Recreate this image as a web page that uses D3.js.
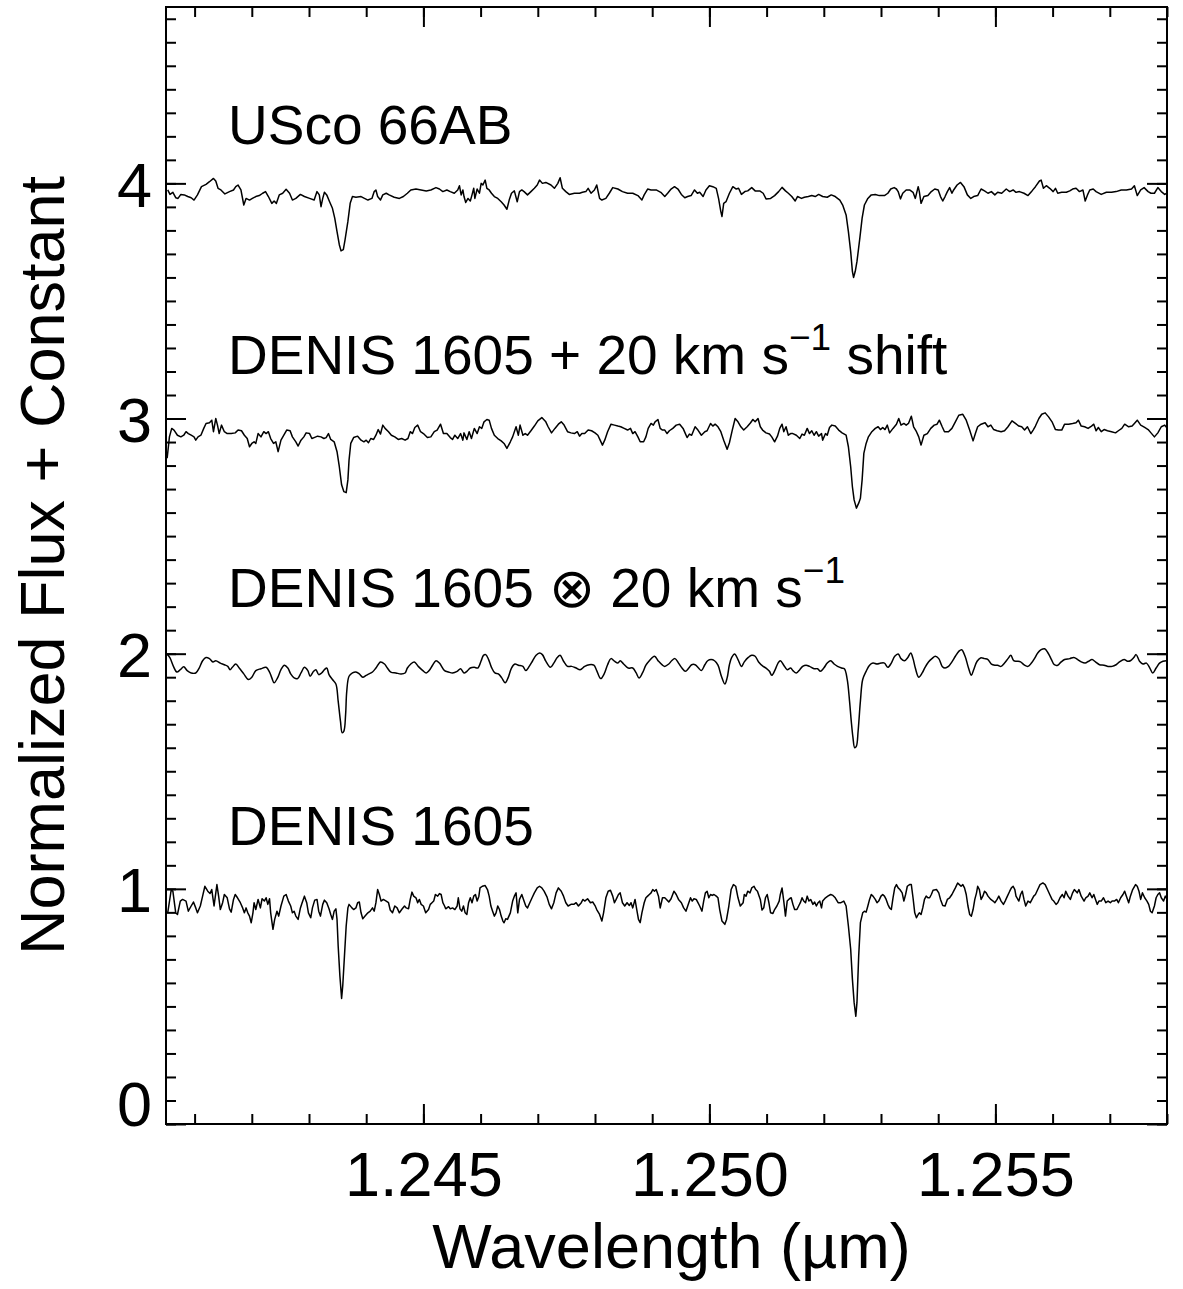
<!DOCTYPE html>
<html>
<head>
<meta charset="utf-8">
<script src="https://cdn.jsdelivr.net/npm/d3@7"></script>
<style>
  body { margin: 0; background: #fff; }
  svg { display: block; }
  text { font-family: "Liberation Sans", Arial, Helvetica, sans-serif; fill: #000; }
</style>
</head>
<body>
<svg id="chart" width="1183" height="1289"></svg>
<script>
// wavelength (micron), normalized flux + offset
const usco66ab = [
  [1.24053,3.972],[1.24057,3.953],[1.24062,3.962],[1.24067,3.939],[1.24071,3.936],[1.24076,3.953],[1.24082,3.951],[1.24088,3.944],
  [1.24094,3.939],[1.24099,3.929],[1.24105,3.951],[1.24112,3.986],[1.24120,3.996],[1.24126,4.007],[1.24133,4.021],[1.24137,4.010],
  [1.24141,3.979],[1.24146,3.972],[1.24153,3.955],[1.24161,3.965],[1.24168,3.972],[1.24172,3.986],[1.24176,3.993],[1.24181,3.972],
  [1.24186,3.908],[1.24190,3.936],[1.24196,3.929],[1.24201,3.936],[1.24207,3.944],[1.24213,3.948],[1.24219,3.958],[1.24224,3.965],
  [1.24229,3.944],[1.24235,3.915],[1.24239,3.925],[1.24243,3.915],[1.24248,3.951],[1.24254,3.958],[1.24260,3.975],[1.24266,3.958],
  [1.24271,3.929],[1.24277,3.936],[1.24285,3.953],[1.24292,3.944],[1.24301,3.936],[1.24309,3.929],[1.24314,3.965],[1.24318,3.951],
  [1.24321,3.901],[1.24324,3.936],[1.24327,3.962],[1.24331,3.951],[1.24336,3.922],[1.24341,3.894],[1.24345,3.852],[1.24349,3.795],
  [1.24353,3.739],[1.24356,3.713],[1.24360,3.718],[1.24363,3.760],[1.24368,3.838],[1.24372,3.915],[1.24376,3.944],[1.24382,3.941],
  [1.24391,3.944],[1.24397,3.936],[1.24403,3.929],[1.24410,3.936],[1.24414,3.965],[1.24417,3.972],[1.24420,3.944],[1.24425,3.929],
  [1.24429,3.951],[1.24435,3.958],[1.24440,3.951],[1.24449,3.941],[1.24458,3.936],[1.24465,3.944],[1.24472,3.958],[1.24478,3.972],
  [1.24487,3.976],[1.24496,3.972],[1.24505,3.968],[1.24513,3.972],[1.24522,3.982],[1.24528,3.976],[1.24534,3.965],[1.24541,3.972],
  [1.24547,3.965],[1.24554,3.958],[1.24560,3.972],[1.24563,3.990],[1.24566,3.951],[1.24569,3.972],[1.24571,3.944],[1.24574,3.919],
  [1.24578,3.936],[1.24582,3.925],[1.24585,3.951],[1.24588,3.979],[1.24590,3.936],[1.24594,3.976],[1.24598,3.958],[1.24601,4.000],
  [1.24604,3.993],[1.24608,4.014],[1.24611,3.979],[1.24615,3.972],[1.24619,3.958],[1.24624,3.944],[1.24630,3.936],[1.24636,3.922],
  [1.24641,3.908],[1.24646,3.890],[1.24650,3.929],[1.24654,3.958],[1.24659,3.968],[1.24664,3.922],[1.24668,3.965],[1.24672,3.972],
  [1.24676,3.965],[1.24682,3.951],[1.24688,3.965],[1.24694,3.979],[1.24699,3.993],[1.24703,4.014],[1.24708,4.000],[1.24714,4.004],
  [1.24723,3.993],[1.24729,3.979],[1.24735,4.000],[1.24739,4.024],[1.24743,3.979],[1.24749,3.965],[1.24755,3.953],[1.24764,3.958],
  [1.24773,3.958],[1.24778,3.962],[1.24784,3.965],[1.24788,3.979],[1.24793,3.958],[1.24799,3.972],[1.24803,3.993],[1.24808,3.936],
  [1.24812,3.929],[1.24819,3.936],[1.24825,3.958],[1.24831,3.982],[1.24840,3.976],[1.24848,3.965],[1.24857,3.958],[1.24866,3.958],
  [1.24875,3.948],[1.24882,3.929],[1.24886,3.951],[1.24892,3.976],[1.24898,3.972],[1.24907,3.972],[1.24915,3.962],
  [1.24922,3.944],[1.24927,3.958],[1.24933,3.976],[1.24939,3.986],[1.24945,3.976],[1.24951,3.953],[1.24957,3.939],[1.24962,3.944],
  [1.24968,3.948],[1.24974,3.972],[1.24979,3.958],[1.24983,3.962],[1.24989,3.944],[1.24994,3.972],[1.25000,3.990],[1.25006,3.986],
  [1.25012,3.979],[1.25016,3.936],[1.25020,3.880],[1.25022,3.859],[1.25025,3.915],[1.25029,3.922],[1.25035,3.958],[1.25041,3.986],
  [1.25047,3.976],[1.25051,3.979],[1.25056,3.953],[1.25062,3.965],[1.25067,3.968],[1.25074,3.982],[1.25080,3.968],[1.25088,3.968],
  [1.25094,3.958],[1.25099,3.934],[1.25107,3.936],[1.25114,3.948],[1.25121,3.965],[1.25127,3.983],[1.25133,3.968],[1.25138,3.958],
  [1.25144,3.944],[1.25150,3.925],[1.25154,3.944],[1.25161,3.936],[1.25166,3.941],[1.25173,3.944],[1.25179,3.948],[1.25185,3.944],
  [1.25191,3.953],[1.25198,3.944],[1.25206,3.941],[1.25213,3.951],[1.25220,3.944],[1.25228,3.929],[1.25233,3.908],[1.25239,3.866],
  [1.25243,3.795],[1.25247,3.710],[1.25250,3.626],[1.25252,3.600],[1.25255,3.626],[1.25258,3.668],[1.25263,3.767],[1.25267,3.852],
  [1.25271,3.908],[1.25277,3.936],[1.25283,3.951],[1.25290,3.953],[1.25297,3.948],[1.25306,3.948],[1.25312,3.958],[1.25317,3.976],
  [1.25323,3.982],[1.25327,3.976],[1.25330,3.965],[1.25334,3.934],[1.25338,3.958],[1.25344,3.972],[1.25350,3.972],[1.25356,3.962],
  [1.25360,3.936],[1.25365,3.986],[1.25367,3.965],[1.25370,3.915],[1.25375,3.944],[1.25382,3.948],[1.25388,3.965],[1.25394,3.976],
  [1.25400,3.972],[1.25404,3.944],[1.25408,3.925],[1.25412,3.944],[1.25416,3.965],[1.25420,3.982],[1.25424,3.958],[1.25427,3.972],
  [1.25433,3.993],[1.25439,4.004],[1.25445,3.986],[1.25451,3.951],[1.25457,3.936],[1.25462,3.944],[1.25469,3.948],[1.25475,3.976],
  [1.25481,3.968],[1.25487,3.958],[1.25493,3.965],[1.25499,3.951],[1.25504,3.962],[1.25511,3.958],[1.25519,3.976],[1.25525,3.965],
  [1.25531,3.972],[1.25536,3.962],[1.25542,3.965],[1.25550,3.958],[1.25557,3.948],[1.25564,3.968],[1.25570,3.986],[1.25577,4.010],
  [1.25580,4.014],[1.25584,3.979],[1.25589,3.990],[1.25595,3.979],[1.25601,3.965],[1.25605,3.979],[1.25609,3.958],[1.25616,3.962],
  [1.25624,3.962],[1.25630,3.968],[1.25635,3.976],[1.25641,3.979],[1.25647,3.965],[1.25653,3.972],[1.25657,3.925],[1.25661,3.951],
  [1.25665,3.972],[1.25671,3.976],[1.25676,3.965],[1.25685,3.953],[1.25694,3.962],[1.25703,3.962],[1.25711,3.965],[1.25720,3.972],
  [1.25729,3.972],[1.25738,3.976],[1.25743,3.990],[1.25748,3.948],[1.25754,3.972],[1.25760,3.982],[1.25767,3.965],[1.25772,3.958],
  [1.25778,3.958],[1.25784,3.982],[1.25790,3.965],[1.25796,3.953],[1.25802,3.962]
];

const denisShifted = [
  [1.24052,2.831],[1.24056,2.922],[1.24060,2.958],[1.24064,2.951],[1.24070,2.929],[1.24076,2.922],[1.24081,2.929],[1.24085,2.944],
  [1.24089,2.936],[1.24094,2.929],[1.24099,2.922],[1.24102,2.908],[1.24106,2.922],[1.24111,2.929],[1.24116,2.958],[1.24120,2.979],
  [1.24126,2.982],[1.24130,2.993],[1.24133,2.944],[1.24137,3.000],[1.24140,2.972],[1.24143,2.936],[1.24147,2.972],[1.24152,2.944],
  [1.24157,2.936],[1.24164,2.936],[1.24171,2.939],[1.24176,2.951],[1.24182,2.948],[1.24187,2.929],[1.24192,2.915],[1.24196,2.880],
  [1.24200,2.894],[1.24204,2.901],[1.24207,2.894],[1.24211,2.936],[1.24216,2.922],[1.24221,2.944],[1.24225,2.936],[1.24229,2.944],
  [1.24233,2.915],[1.24238,2.894],[1.24242,2.901],[1.24246,2.859],[1.24251,2.908],[1.24256,2.929],[1.24261,2.951],[1.24267,2.948],
  [1.24271,2.922],[1.24277,2.901],[1.24281,2.883],[1.24286,2.908],[1.24291,2.922],[1.24295,2.939],[1.24301,2.936],[1.24305,2.915],
  [1.24309,2.919],[1.24315,2.925],[1.24321,2.922],[1.24326,2.915],[1.24330,2.919],[1.24334,2.936],[1.24338,2.911],[1.24344,2.901],
  [1.24349,2.859],[1.24353,2.795],[1.24357,2.718],[1.24361,2.689],[1.24365,2.685],[1.24368,2.739],[1.24370,2.823],[1.24373,2.894],
  [1.24378,2.919],[1.24385,2.925],[1.24391,2.908],[1.24396,2.901],[1.24400,2.908],[1.24404,2.897],[1.24408,2.915],[1.24413,2.911],
  [1.24417,2.929],[1.24421,2.953],[1.24425,2.934],[1.24429,2.972],[1.24433,2.958],[1.24439,2.944],[1.24444,2.929],[1.24450,2.922],
  [1.24456,2.911],[1.24462,2.915],[1.24468,2.908],[1.24473,2.915],[1.24477,2.944],[1.24481,2.936],[1.24485,2.962],[1.24490,2.972],
  [1.24495,2.944],[1.24500,2.936],[1.24507,2.919],[1.24513,2.922],[1.24519,2.944],[1.24524,2.951],[1.24530,2.976],[1.24535,2.936],
  [1.24541,2.936],[1.24547,2.919],[1.24551,2.911],[1.24555,2.929],[1.24560,2.915],[1.24565,2.936],[1.24569,2.908],[1.24571,2.939],
  [1.24576,2.911],[1.24580,2.944],[1.24584,2.915],[1.24589,2.958],[1.24594,2.936],[1.24598,2.965],[1.24602,2.958],[1.24606,2.986],
  [1.24611,2.996],[1.24615,2.993],[1.24619,2.958],[1.24624,2.929],[1.24630,2.915],[1.24636,2.905],[1.24641,2.894],[1.24646,2.873],
  [1.24652,2.901],[1.24656,2.922],[1.24662,2.965],[1.24666,2.929],[1.24669,2.972],[1.24674,2.929],[1.24678,2.936],[1.24682,2.929],
  [1.24688,2.948],[1.24694,2.968],[1.24700,2.990],[1.24707,3.004],[1.24714,2.986],[1.24718,2.965],[1.24724,2.939],[1.24730,2.958],
  [1.24736,2.976],[1.24741,2.986],[1.24746,2.972],[1.24752,2.944],[1.24758,2.939],[1.24764,2.936],[1.24769,2.944],[1.24773,2.925],
  [1.24777,2.936],[1.24782,2.936],[1.24788,2.951],[1.24794,2.948],[1.24800,2.939],[1.24805,2.929],[1.24809,2.908],[1.24813,2.887],
  [1.24817,2.908],[1.24822,2.944],[1.24828,2.976],[1.24834,2.972],[1.24840,2.968],[1.24845,2.965],[1.24851,2.958],[1.24857,2.951],
  [1.24862,2.958],[1.24866,2.936],[1.24870,2.944],[1.24875,2.922],[1.24879,2.901],[1.24885,2.901],[1.24889,2.922],[1.24893,2.958],
  [1.24898,2.979],[1.24902,2.972],[1.24905,2.986],[1.24910,2.996],[1.24914,2.958],[1.24918,2.951],
  [1.24922,2.951],[1.24926,2.936],[1.24930,2.948],[1.24936,2.958],[1.24942,2.972],[1.24948,2.976],[1.24954,2.958],[1.24958,2.936],
  [1.24961,2.919],[1.24965,2.934],[1.24969,2.929],[1.24975,2.965],[1.24980,2.951],[1.24986,2.929],[1.24992,2.944],[1.24996,2.948],
  [1.25002,2.979],[1.25006,2.968],[1.25010,2.976],[1.25015,2.965],[1.25020,2.944],[1.25025,2.908],[1.25031,2.869],[1.25035,2.897],
  [1.25040,2.951],[1.25045,3.000],[1.25050,2.986],[1.25055,2.965],[1.25060,2.951],[1.25066,2.965],[1.25072,2.982],[1.25076,2.996],
  [1.25080,2.986],[1.25085,3.000],[1.25089,2.965],[1.25093,2.951],[1.25099,2.939],[1.25105,2.934],[1.25109,2.922],[1.25114,2.901],
  [1.25119,2.925],[1.25123,2.958],[1.25127,2.976],[1.25130,2.944],[1.25134,2.965],[1.25138,2.929],[1.25142,2.936],[1.25146,2.936],
  [1.25152,2.929],[1.25158,2.915],[1.25162,2.934],[1.25166,2.929],[1.25171,2.958],[1.25175,2.936],[1.25179,2.948],[1.25183,2.929],
  [1.25187,2.944],[1.25191,2.925],[1.25196,2.936],[1.25198,2.908],[1.25203,2.936],[1.25206,2.929],[1.25210,2.962],[1.25214,2.972],
  [1.25220,2.968],[1.25226,2.951],[1.25232,2.939],[1.25239,2.929],[1.25243,2.880],[1.25247,2.795],[1.25250,2.710],[1.25253,2.654],
  [1.25257,2.619],[1.25261,2.640],[1.25264,2.661],[1.25267,2.739],[1.25270,2.852],[1.25274,2.894],[1.25278,2.922],[1.25284,2.944],
  [1.25290,2.958],[1.25295,2.965],[1.25299,2.953],[1.25303,2.962],[1.25307,2.953],[1.25311,2.972],[1.25315,2.939],[1.25321,2.958],
  [1.25327,2.976],[1.25331,3.000],[1.25335,2.972],[1.25340,2.979],[1.25344,2.972],[1.25348,2.979],[1.25353,3.010],[1.25357,2.965],
  [1.25362,2.944],[1.25366,2.922],[1.25370,2.887],[1.25375,2.929],[1.25381,2.936],[1.25387,2.958],[1.25393,2.972],[1.25398,2.976],
  [1.25402,2.993],[1.25407,2.965],[1.25411,2.944],[1.25418,2.944],[1.25424,2.958],[1.25430,2.986],[1.25436,3.014],[1.25443,3.018],
  [1.25449,2.993],[1.25455,2.951],[1.25461,2.905],[1.25465,2.936],[1.25469,2.965],[1.25475,2.976],[1.25482,2.982],[1.25487,2.965],
  [1.25492,2.972],[1.25497,2.953],[1.25503,2.948],[1.25510,2.944],[1.25516,2.948],[1.25522,2.965],[1.25529,2.990],[1.25535,2.979],
  [1.25541,2.968],[1.25546,2.965],[1.25551,2.951],[1.25556,2.965],[1.25562,2.936],[1.25566,2.951],[1.25570,2.968],[1.25576,3.000],
  [1.25581,3.018],[1.25587,3.024],[1.25593,3.007],[1.25599,2.986],[1.25605,2.953],[1.25610,2.951],[1.25616,2.951],[1.25621,2.976],
  [1.25628,2.976],[1.25635,2.979],[1.25641,2.982],[1.25645,2.993],[1.25650,2.968],[1.25656,2.965],[1.25662,2.958],[1.25668,2.968],
  [1.25672,2.976],[1.25676,2.948],[1.25680,2.962],[1.25685,2.944],[1.25690,2.953],[1.25696,2.948],[1.25703,2.944],[1.25710,2.939],
  [1.25715,2.948],[1.25721,2.958],[1.25726,2.976],[1.25733,2.965],[1.25739,2.968],[1.25743,2.979],[1.25748,2.993],[1.25754,2.972],
  [1.25761,2.962],[1.25767,2.953],[1.25772,2.939],[1.25778,2.922],[1.25784,2.939],[1.25790,2.965],[1.25796,2.972],[1.25802,2.953]
];

const denisBroadened = [
  [1.24052,1.999],[1.24057,1.982],[1.24063,1.946],[1.24069,1.922],[1.24075,1.932],[1.24081,1.944],[1.24087,1.928],[1.24094,1.918],
  [1.24102,1.918],[1.24108,1.939],[1.24114,1.970],[1.24120,1.984],[1.24126,1.979],[1.24132,1.965],[1.24137,1.970],[1.24145,1.960],
  [1.24152,1.953],[1.24158,1.946],[1.24162,1.932],[1.24166,1.942],[1.24172,1.956],[1.24178,1.939],[1.24186,1.914],[1.24194,1.890],
  [1.24200,1.900],[1.24207,1.928],[1.24216,1.936],[1.24225,1.942],[1.24231,1.922],[1.24235,1.897],[1.24239,1.876],[1.24245,1.897],
  [1.24251,1.932],[1.24257,1.951],[1.24263,1.939],[1.24268,1.914],[1.24274,1.897],[1.24280,1.894],[1.24286,1.918],[1.24292,1.942],
  [1.24298,1.928],[1.24302,1.904],[1.24308,1.925],[1.24312,1.932],[1.24317,1.911],[1.24322,1.918],[1.24327,1.932],[1.24331,1.939],
  [1.24335,1.911],[1.24341,1.890],[1.24347,1.871],[1.24351,1.798],[1.24355,1.713],[1.24358,1.664],[1.24361,1.671],[1.24364,1.742],
  [1.24366,1.840],[1.24370,1.904],[1.24376,1.918],[1.24382,1.922],[1.24388,1.914],[1.24394,1.900],[1.24400,1.908],[1.24405,1.914],
  [1.24411,1.922],[1.24417,1.939],[1.24425,1.965],[1.24432,1.956],[1.24437,1.939],[1.24443,1.922],[1.24452,1.918],[1.24461,1.914],
  [1.24468,1.918],[1.24472,1.939],[1.24478,1.956],[1.24484,1.965],[1.24491,1.946],[1.24499,1.928],[1.24505,1.918],[1.24510,1.928],
  [1.24516,1.951],[1.24522,1.970],[1.24528,1.960],[1.24537,1.928],[1.24544,1.922],[1.24551,1.918],[1.24559,1.925],[1.24565,1.936],
  [1.24571,1.918],[1.24576,1.925],[1.24582,1.939],[1.24589,1.942],[1.24595,1.939],[1.24601,1.970],[1.24605,1.993],[1.24609,1.996],
  [1.24614,1.975],[1.24619,1.942],[1.24625,1.918],[1.24631,1.914],[1.24637,1.897],[1.24643,1.876],[1.24648,1.897],[1.24654,1.939],
  [1.24660,1.956],[1.24666,1.951],[1.24674,1.946],[1.24679,1.928],[1.24685,1.946],[1.24691,1.970],[1.24697,1.993],[1.24703,2.003],
  [1.24708,1.996],[1.24714,1.968],[1.24722,1.942],[1.24728,1.960],[1.24734,1.984],[1.24739,1.993],[1.24745,1.968],[1.24752,1.946],
  [1.24759,1.946],[1.24767,1.939],[1.24774,1.932],[1.24782,1.946],[1.24790,1.953],[1.24798,1.951],[1.24803,1.928],[1.24810,1.894],
  [1.24816,1.914],[1.24822,1.953],[1.24828,1.979],[1.24834,1.968],[1.24840,1.960],[1.24844,1.970],[1.24850,1.956],[1.24858,1.939],
  [1.24866,1.939],[1.24872,1.918],[1.24877,1.897],[1.24883,1.918],[1.24889,1.951],[1.24895,1.970],[1.24904,1.989],[1.24911,1.968],
  [1.24918,1.951],
  [1.24922,1.946],[1.24929,1.956],[1.24934,1.970],[1.24940,1.979],[1.24946,1.960],[1.24952,1.939],[1.24958,1.925],[1.24964,1.939],
  [1.24969,1.953],[1.24975,1.953],[1.24981,1.939],[1.24986,1.928],[1.24992,1.953],[1.24997,1.970],[1.25003,1.975],[1.25009,1.970],
  [1.25015,1.951],[1.25021,1.904],[1.25027,1.871],[1.25031,1.897],[1.25035,1.953],[1.25039,1.984],[1.25044,1.999],[1.25050,1.975],
  [1.25056,1.946],[1.25061,1.965],[1.25068,1.984],[1.25074,1.993],[1.25080,1.989],[1.25086,1.965],[1.25094,1.946],[1.25099,1.939],
  [1.25105,1.925],[1.25109,1.908],[1.25115,1.932],[1.25120,1.960],[1.25124,1.970],[1.25130,1.951],[1.25136,1.932],[1.25142,1.939],
  [1.25146,1.928],[1.25152,1.918],[1.25158,1.932],[1.25163,1.946],[1.25169,1.951],[1.25175,1.946],[1.25183,1.936],[1.25189,1.936],
  [1.25194,1.925],[1.25200,1.939],[1.25206,1.960],[1.25212,1.970],[1.25218,1.956],[1.25224,1.946],[1.25231,1.939],[1.25236,1.936],
  [1.25241,1.890],[1.25245,1.798],[1.25248,1.713],[1.25251,1.643],[1.25254,1.600],[1.25257,1.607],[1.25260,1.671],[1.25264,1.798],
  [1.25268,1.890],[1.25274,1.925],[1.25280,1.951],[1.25286,1.960],[1.25293,1.956],[1.25300,1.960],[1.25306,1.960],[1.25312,1.942],
  [1.25318,1.960],[1.25324,1.989],[1.25330,1.999],[1.25335,1.979],[1.25341,1.970],[1.25347,1.984],[1.25352,2.003],[1.25356,1.979],
  [1.25360,1.939],[1.25366,1.900],[1.25372,1.918],[1.25377,1.942],[1.25383,1.965],[1.25389,1.979],[1.25395,1.989],[1.25401,1.979],
  [1.25407,1.946],[1.25412,1.939],[1.25418,1.946],[1.25424,1.965],[1.25430,1.989],[1.25436,2.010],[1.25441,2.017],[1.25447,1.989],
  [1.25453,1.939],[1.25458,1.908],[1.25462,1.932],[1.25468,1.968],[1.25474,1.982],[1.25481,1.979],[1.25487,1.975],[1.25493,1.956],
  [1.25499,1.951],[1.25504,1.951],[1.25510,1.946],[1.25516,1.960],[1.25522,1.979],[1.25527,1.993],[1.25532,1.970],[1.25538,1.968],
  [1.25544,1.965],[1.25551,1.951],[1.25557,1.946],[1.25563,1.960],[1.25569,1.982],[1.25574,2.003],[1.25580,2.017],[1.25586,2.021],
  [1.25592,2.003],[1.25598,1.975],[1.25603,1.953],[1.25609,1.951],[1.25615,1.965],[1.25621,1.975],[1.25630,1.979],[1.25637,1.984],
  [1.25644,1.975],[1.25650,1.965],[1.25657,1.960],[1.25663,1.968],[1.25669,1.975],[1.25675,1.965],[1.25682,1.953],[1.25690,1.951],
  [1.25697,1.946],[1.25704,1.946],[1.25711,1.953],[1.25717,1.965],[1.25725,1.975],[1.25731,1.968],[1.25736,1.970],[1.25742,1.984],
  [1.25746,1.996],[1.25752,1.968],[1.25758,1.956],[1.25764,1.960],[1.25770,1.939],[1.25775,1.918],[1.25781,1.939],[1.25787,1.960],
  [1.25793,1.968],[1.25799,1.970],[1.25804,1.968]
];

const denis1605 = [
  [1.24053,0.898],[1.24059,0.994],[1.24062,0.990],[1.24067,0.898],[1.24070,0.891],[1.24075,0.948],[1.24079,0.955],[1.24085,0.948],
  [1.24089,0.905],[1.24094,0.927],[1.24098,0.944],[1.24102,0.919],[1.24105,0.898],[1.24110,0.927],[1.24114,0.969],[1.24118,1.011],
  [1.24123,0.990],[1.24127,0.980],[1.24130,0.997],[1.24134,0.927],[1.24139,1.018],[1.24142,0.969],[1.24145,0.912],[1.24149,0.941],
  [1.24152,0.976],[1.24157,0.962],[1.24161,0.915],[1.24164,0.901],[1.24168,0.955],[1.24171,0.976],[1.24175,0.962],[1.24180,0.941],
  [1.24184,0.919],[1.24187,0.898],[1.24190,0.919],[1.24193,0.898],[1.24196,0.884],[1.24199,0.856],[1.24202,0.898],[1.24204,0.941],
  [1.24207,0.912],[1.24211,0.955],[1.24215,0.919],[1.24218,0.958],[1.24222,0.948],[1.24225,0.962],[1.24228,0.934],[1.24231,0.958],
  [1.24233,0.898],[1.24237,0.828],[1.24240,0.870],[1.24244,0.905],[1.24247,0.884],[1.24251,0.927],[1.24256,0.969],[1.24260,0.976],
  [1.24264,0.948],[1.24268,0.927],[1.24271,0.898],[1.24274,0.905],[1.24277,0.884],[1.24281,0.870],[1.24285,0.919],[1.24288,0.941],
  [1.24292,0.969],[1.24296,0.941],[1.24299,0.898],[1.24303,0.877],[1.24306,0.919],[1.24310,0.952],[1.24314,0.955],[1.24317,0.905],
  [1.24320,0.884],[1.24324,0.934],[1.24327,0.952],[1.24331,0.941],[1.24335,0.915],[1.24338,0.891],[1.24341,0.870],[1.24344,0.905],
  [1.24347,0.915],[1.24349,0.870],[1.24351,0.757],[1.24354,0.630],[1.24357,0.534],[1.24359,0.588],[1.24362,0.715],[1.24365,0.842],
  [1.24368,0.919],[1.24370,0.934],[1.24375,0.919],[1.24378,0.912],[1.24382,0.919],[1.24385,0.941],[1.24388,0.944],[1.24391,0.898],
  [1.24394,0.873],[1.24398,0.884],[1.24403,0.898],[1.24407,0.905],[1.24411,0.919],[1.24414,0.905],[1.24417,0.941],[1.24420,0.997],
  [1.24423,0.976],[1.24426,0.948],[1.24430,0.955],[1.24435,0.948],[1.24439,0.941],[1.24442,0.910],[1.24446,0.898],[1.24450,0.927],
  [1.24454,0.919],[1.24458,0.898],[1.24462,0.912],[1.24467,0.927],[1.24470,0.919],[1.24474,0.915],[1.24477,0.955],[1.24480,0.986],
  [1.24483,0.969],[1.24487,0.962],[1.24490,0.941],[1.24493,0.955],[1.24496,0.934],[1.24500,0.927],[1.24504,0.898],[1.24509,0.912],
  [1.24512,0.934],[1.24515,0.941],[1.24518,0.948],[1.24521,0.976],[1.24525,0.969],[1.24528,0.980],[1.24531,0.976],[1.24534,0.941],
  [1.24537,0.927],[1.24539,0.915],[1.24544,0.924],[1.24547,0.915],[1.24551,0.919],[1.24555,0.912],[1.24559,0.927],[1.24561,0.962],
  [1.24564,0.915],[1.24567,0.905],[1.24570,0.927],[1.24573,0.898],[1.24576,0.891],[1.24579,0.941],[1.24582,0.962],[1.24585,0.941],
  [1.24588,0.969],[1.24591,0.976],[1.24594,0.948],[1.24597,0.969],[1.24599,1.004],[1.24603,1.011],[1.24608,1.014],[1.24612,0.997],
  [1.24615,0.969],[1.24618,0.927],[1.24621,0.905],[1.24624,0.884],[1.24627,0.898],[1.24630,0.927],[1.24633,0.912],[1.24636,0.884],
  [1.24639,0.863],[1.24641,0.856],[1.24644,0.873],[1.24647,0.870],[1.24652,0.898],[1.24656,0.948],[1.24659,0.969],[1.24662,0.983],
  [1.24665,0.898],[1.24668,0.955],[1.24672,0.976],[1.24675,0.955],[1.24679,0.927],[1.24682,0.919],[1.24686,0.941],[1.24690,0.962],
  [1.24694,0.983],[1.24699,1.004],[1.24703,1.011],[1.24707,1.004],[1.24711,0.990],[1.24716,0.966],[1.24720,0.934],[1.24724,0.915],
  [1.24728,0.941],[1.24732,0.983],[1.24736,1.004],[1.24741,0.990],[1.24745,0.969],[1.24749,0.941],[1.24753,0.927],[1.24758,0.934],
  [1.24763,0.934],[1.24767,0.941],[1.24771,0.927],[1.24776,0.941],[1.24779,0.955],[1.24782,0.948],[1.24787,0.958],[1.24792,0.941],
  [1.24796,0.944],[1.24800,0.929],[1.24803,0.912],[1.24808,0.891],[1.24812,0.863],[1.24815,0.898],[1.24819,0.962],[1.24823,0.990],
  [1.24827,0.994],[1.24831,0.969],[1.24834,0.941],[1.24837,0.955],[1.24841,0.976],[1.24844,0.983],[1.24848,0.941],[1.24852,0.927],
  [1.24856,0.941],[1.24860,0.929],[1.24863,0.941],[1.24866,0.919],[1.24870,0.955],[1.24873,0.912],[1.24876,0.870],[1.24879,0.856],
  [1.24882,0.898],[1.24886,0.941],[1.24889,0.962],[1.24892,0.969],[1.24895,0.976],[1.24898,0.983],[1.24901,0.997],[1.24904,0.990],
  [1.24907,0.997],[1.24911,0.969],[1.24914,0.919],[1.24918,0.962],
  [1.24922,0.962],[1.24925,0.955],[1.24929,0.944],[1.24933,0.958],[1.24938,0.990],[1.24942,0.976],[1.24946,0.955],[1.24951,0.941],
  [1.24955,0.919],[1.24959,0.905],[1.24964,0.941],[1.24967,0.962],[1.24970,0.948],[1.24973,0.958],[1.24977,0.955],[1.24980,0.941],
  [1.24983,0.927],[1.24987,0.905],[1.24990,0.948],[1.24993,0.983],[1.24996,0.990],[1.24999,0.962],[1.25002,0.976],[1.25005,0.972],
  [1.25008,0.976],[1.25012,0.969],[1.25015,0.962],[1.25018,0.912],[1.25022,0.863],[1.25027,0.849],[1.25030,0.870],[1.25034,0.927],
  [1.25038,0.997],[1.25042,1.018],[1.25046,1.011],[1.25050,0.962],[1.25054,0.927],[1.25059,0.941],[1.25061,0.976],[1.25064,0.969],
  [1.25067,0.990],[1.25071,0.983],[1.25074,1.004],[1.25078,1.011],[1.25081,0.997],[1.25084,0.990],[1.25087,0.969],[1.25089,0.955],
  [1.25092,0.910],[1.25095,0.919],[1.25098,0.962],[1.25101,0.976],[1.25104,0.941],[1.25107,0.898],[1.25111,0.895],[1.25114,0.912],
  [1.25118,0.927],[1.25122,0.948],[1.25124,0.976],[1.25127,1.004],[1.25130,0.948],[1.25133,0.884],[1.25136,0.948],[1.25140,0.958],
  [1.25143,0.962],[1.25146,0.934],[1.25149,0.912],[1.25153,0.912],[1.25156,0.927],[1.25159,0.941],[1.25162,0.962],[1.25165,0.948],
  [1.25168,0.941],[1.25171,0.969],[1.25174,0.948],[1.25177,0.955],[1.25181,0.934],[1.25184,0.944],[1.25187,0.927],[1.25190,0.941],
  [1.25193,0.948],[1.25196,0.919],[1.25198,0.948],[1.25203,0.962],[1.25207,0.969],[1.25212,0.976],[1.25216,0.972],[1.25220,0.962],
  [1.25225,0.941],[1.25230,0.941],[1.25235,0.948],[1.25239,0.927],[1.25243,0.842],[1.25247,0.743],[1.25250,0.616],[1.25253,0.517],
  [1.25256,0.458],[1.25258,0.517],[1.25261,0.715],[1.25264,0.856],[1.25268,0.898],[1.25271,0.905],[1.25274,0.901],[1.25277,0.927],
  [1.25280,0.955],[1.25283,0.976],[1.25286,0.969],[1.25290,0.955],[1.25293,0.941],[1.25296,0.948],[1.25300,0.969],[1.25303,0.976],
  [1.25306,0.969],[1.25309,0.955],[1.25312,0.934],[1.25315,0.919],[1.25318,0.912],[1.25321,0.962],[1.25324,1.004],[1.25327,1.018],
  [1.25330,1.004],[1.25333,0.997],[1.25337,0.983],[1.25340,0.948],[1.25343,0.976],[1.25346,1.011],[1.25350,1.018],[1.25353,1.018],
  [1.25356,0.962],[1.25359,0.898],[1.25362,0.877],[1.25365,0.891],[1.25367,0.898],[1.25370,0.891],[1.25373,0.919],[1.25376,0.955],
  [1.25379,0.969],[1.25382,0.962],[1.25385,0.962],[1.25388,0.976],[1.25391,0.994],[1.25397,0.997],[1.25401,0.983],[1.25404,0.955],
  [1.25408,0.929],[1.25412,0.927],[1.25416,0.955],[1.25420,0.962],[1.25424,0.976],[1.25427,0.990],[1.25430,1.004],[1.25434,1.025],
  [1.25437,1.018],[1.25440,1.011],[1.25443,1.018],[1.25446,1.004],[1.25449,0.976],[1.25452,0.927],[1.25455,0.891],[1.25458,0.884],
  [1.25461,0.912],[1.25464,0.955],[1.25467,0.983],[1.25469,1.011],[1.25472,0.997],[1.25475,0.955],[1.25478,0.969],[1.25481,0.990],
  [1.25484,0.983],[1.25487,0.969],[1.25492,0.955],[1.25496,0.948],[1.25499,0.941],[1.25503,0.955],[1.25506,0.969],[1.25510,0.948],
  [1.25514,0.934],[1.25517,0.948],[1.25521,0.969],[1.25525,0.990],[1.25528,1.004],[1.25531,1.011],[1.25534,0.997],[1.25536,0.969],
  [1.25541,0.948],[1.25544,0.976],[1.25547,0.990],[1.25550,0.955],[1.25553,0.927],[1.25557,0.948],[1.25561,0.941],[1.25564,0.955],
  [1.25567,0.969],[1.25570,0.976],[1.25574,0.997],[1.25578,1.018],[1.25583,1.025],[1.25587,1.018],[1.25591,0.997],[1.25595,0.976],
  [1.25599,0.955],[1.25602,0.948],[1.25606,0.934],[1.25609,0.941],[1.25613,0.962],[1.25617,0.976],[1.25620,0.962],[1.25623,0.990],
  [1.25627,0.969],[1.25631,0.955],[1.25635,0.983],[1.25638,0.997],[1.25643,0.983],[1.25646,0.997],[1.25650,0.969],[1.25655,0.948],
  [1.25658,0.962],[1.25662,0.969],[1.25665,0.983],[1.25669,0.962],[1.25672,0.976],[1.25675,0.955],[1.25678,0.934],[1.25681,0.948],
  [1.25685,0.948],[1.25689,0.962],[1.25693,0.941],[1.25697,0.948],[1.25701,0.941],[1.25704,0.948],[1.25708,0.948],[1.25712,0.955],
  [1.25715,0.941],[1.25719,0.962],[1.25723,0.976],[1.25726,0.990],[1.25729,0.969],[1.25733,0.941],[1.25736,0.969],[1.25740,0.997],
  [1.25745,1.018],[1.25748,1.011],[1.25751,0.990],[1.25754,0.955],[1.25757,0.983],[1.25761,0.962],[1.25765,0.948],[1.25768,0.934],
  [1.25771,0.905],[1.25774,0.898],[1.25778,0.927],[1.25781,0.962],[1.25784,0.976],[1.25787,0.983],[1.25790,0.962],[1.25794,0.948],
  [1.25797,0.969],[1.25802,0.948],[1.25804,0.955]
];

// the broadened spectrum is drawn with a smooth curve, the others straight segments
const spectra = [
  { data: usco66ab, smooth: false },
  { data: denisShifted, smooth: false },
  { data: denisBroadened, smooth: true },
  { data: denis1605, smooth: false }
];

const xDomain = [1.2405, 1.258];
const yDomain = [0, 4.75];
const xTickValues = [1.245, 1.250, 1.255];
const xTickLabels = ["1.245", "1.250", "1.255"];
const yTickValues = [0, 1, 2, 3, 4];
const yTickLabels = ["0", "1", "2", "3", "4"];

const xTitle = "Wavelength (\u00b5m)";
const yTitle = "Normalized Flux + Constant";

// plot box in page pixels
const box = { left: 166, right: 1167, top: 7, bottom: 1124 };
const FONT = 63;
const LABEL_FONT = 55;

const svg = d3.select('#chart');

const x = d3.scaleLinear().domain(xDomain).range([box.left, box.right]);
const y = d3.scaleLinear().domain(yDomain).range([box.bottom, box.top]);

svg.append('defs').append('clipPath').attr('id', 'plot-clip')
  .append('rect')
  .attr('x', box.left).attr('y', box.top)
  .attr('width', box.right - box.left).attr('height', box.bottom - box.top);

// spectra
const straight = d3.line().x(d => x(d[0])).y(d => y(d[1]));
const smooth = d3.line().x(d => x(d[0])).y(d => y(d[1])).curve(d3.curveCatmullRom.alpha(0.5));

svg.append('g').attr('clip-path', 'url(#plot-clip)')
  .selectAll('path')
  .data(spectra)
  .join('path')
  .attr('d', s => (s.smooth ? smooth : straight)(s.data))
  .attr('fill', 'none')
  .attr('stroke', '#000')
  .attr('stroke-width', 1.5)
  .attr('stroke-linejoin', 'round');

// axes: major + minor ticks, all pointing inward, on all four sides
function styleAxis(g) {
  g.select('.domain').remove();
  g.selectAll('.tick line').attr('stroke', '#000').attr('stroke-width', 2);
  g.selectAll('.tick text')
    .attr('font-family', '"Liberation Sans", Arial, Helvetica, sans-serif')
    .attr('font-size', FONT)
    .attr('fill', '#000');
}

const xMinor = x.ticks(20);
const yMinor = y.ticks(50);

// bottom
svg.append('g')
  .attr('transform', `translate(0,${box.bottom})`)
  .call(d3.axisBottom(x).tickValues(xMinor).tickSize(-10).tickFormat(''))
  .call(styleAxis);
svg.append('g')
  .attr('transform', `translate(0,${box.bottom})`)
  .call(d3.axisBottom(x).tickValues(xTickValues).tickSize(-20).tickPadding(27)
    .tickFormat((d, i) => xTickLabels[i]))
  .call(styleAxis);

// top
svg.append('g')
  .attr('transform', `translate(0,${box.top})`)
  .call(d3.axisTop(x).tickValues(xMinor).tickSize(-10).tickFormat(''))
  .call(styleAxis);
svg.append('g')
  .attr('transform', `translate(0,${box.top})`)
  .call(d3.axisTop(x).tickValues(xTickValues).tickSize(-20).tickFormat(''))
  .call(styleAxis);

// left
svg.append('g')
  .attr('transform', `translate(${box.left},0)`)
  .call(d3.axisLeft(y).tickValues(yMinor).tickSize(-10).tickFormat(''))
  .call(styleAxis);
const leftAxis = svg.append('g')
  .attr('transform', `translate(${box.left},0)`)
  .call(d3.axisLeft(y).tickValues(yTickValues).tickSize(-20).tickPadding(14)
    .tickFormat((d, i) => yTickLabels[i]))
  .call(styleAxis);
leftAxis.selectAll('.tick text').attr('dy', '0.36em');
// the zero label sits on the bottom axis line rather than centred on it
leftAxis.selectAll('.tick text').filter(d => d === 0).attr('dy', 0).attr('y', 1);

// right
svg.append('g')
  .attr('transform', `translate(${box.right},0)`)
  .call(d3.axisRight(y).tickValues(yMinor).tickSize(-10).tickFormat(''))
  .call(styleAxis);
svg.append('g')
  .attr('transform', `translate(${box.right},0)`)
  .call(d3.axisRight(y).tickValues(yTickValues).tickSize(-20).tickFormat(''))
  .call(styleAxis);

// frame
svg.append('rect')
  .attr('x', box.left).attr('y', box.top)
  .attr('width', box.right - box.left).attr('height', box.bottom - box.top)
  .attr('fill', 'none')
  .attr('stroke', '#000')
  .attr('stroke-width', 2);

// axis titles
svg.append('text')
  .attr('x', (box.left + box.right) / 2 + 5)
  .attr('y', 1268)
  .attr('text-anchor', 'middle')
  .attr('font-size', FONT)
  .text(xTitle);

svg.append('text')
  .attr('transform', `translate(64,${(box.top + box.bottom) / 2}) rotate(-90)`)
  .attr('text-anchor', 'middle')
  .attr('font-size', FONT)
  .text(yTitle);

// spectrum labels
const labelX = 228;

function addLabel(yPos, parts) {
  const t = svg.append('text')
    .attr('x', labelX)
    .attr('y', yPos)
    .attr('font-size', LABEL_FONT);
  parts.forEach(p => {
    const ts = t.append('tspan').text(p.text);
    if (p.sup) {
      ts.attr('font-size', 37).attr('dy', -24);
    } else if (p.after) {
      ts.attr('font-size', LABEL_FONT).attr('dy', 24);
    }
  });
}

addLabel(144, [{ text: 'USco 66AB' }]);
addLabel(374, [
  { text: 'DENIS 1605 + 20 km s' },
  { text: '\u22121', sup: true },
  { text: ' shift', after: true }
]);
addLabel(607, [
  { text: 'DENIS 1605 \u2297 20 km s' },
  { text: '\u22121', sup: true }
]);
addLabel(845, [{ text: 'DENIS 1605' }]);
</script>
</body>
</html>
